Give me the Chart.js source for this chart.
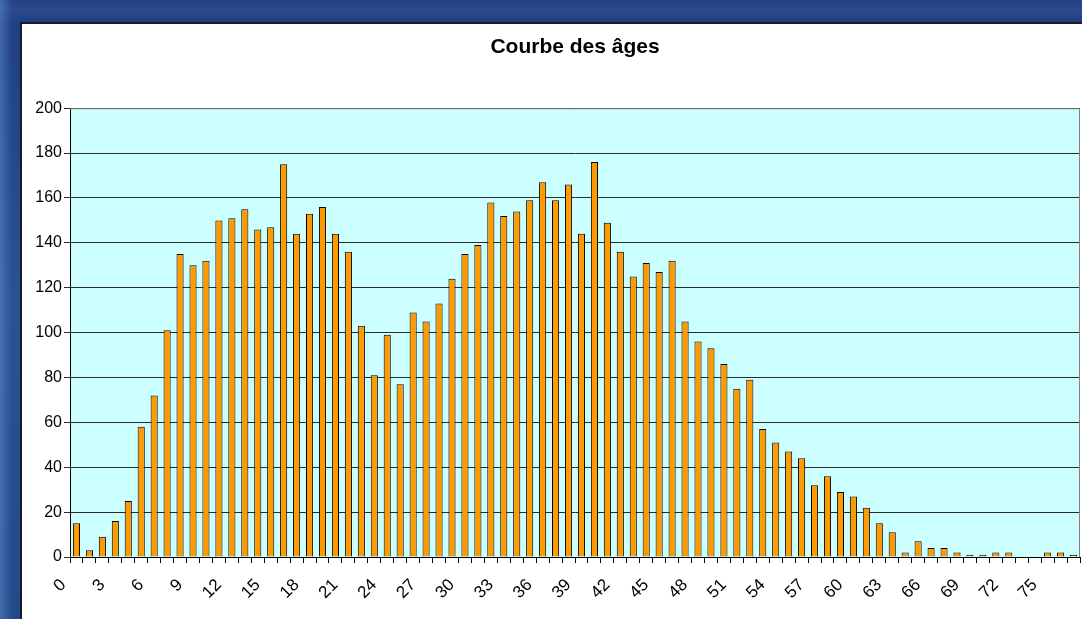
<!DOCTYPE html>
<html>
<head>
<meta charset="utf-8">
<script src="https://cdn.jsdelivr.net/npm/chart.js@4/dist/chart.umd.min.js"></script>
<style>
  html, body { margin: 0; padding: 0; width: 1082px; height: 619px; overflow: hidden; }
  body {
    background:
      linear-gradient(90deg, rgba(90,140,200,0.55) 0px, rgba(40,80,150,0.25) 12px, rgba(0,0,0,0) 22px),
      linear-gradient(180deg, #23407e 0px, #2b4b8f 10px, #1e3c80 24px, #2b5294 300px, #224887 619px);
    position: relative;
  }
  #box {
    position: absolute; left: 20px; top: 22px; width: 1100px; height: 620px;
    background: #ffffff; border-top: 2px solid #1a1a2a; border-left: 2px solid #1a1a2a;
  }
  #wrap { position: absolute; left: 0; top: 0; width: 1082px; height: 619px; }
</style>
</head>
<body>
<div id="box"></div>
<div id="wrap"><canvas id="c" width="1082" height="619"></canvas></div>
<script>
const chartTitle = 'Courbe des âges';
const ages = ['0','1','2','3','4','5','6','7','8','9','10','11','12','13','14','15','16','17','18','19',
  '20','21','22','23','24','25','26','27','28','29','30','31','32','33','34','35','36','37','38','39',
  '40','41','42','43','44','45','46','47','48','49','50','51','52','53','54','55','56','57','58','59',
  '60','61','62','63','64','65','66','67','68','69','70','71','72','73','74','75','76','77'];
const counts = [15,3,9,16,25,58,72,101,135,130,132,150,151,155,146,147,175,144,153,156,
  144,136,103,81,99,77,109,105,113,124,135,139,158,152,154,159,167,159,166,144,
  176,149,136,125,131,127,132,105,96,93,86,75,79,57,51,47,44,32,36,29,
  27,22,15,11,2,7,4,4,2,1,1,2,2,0,0,2,2,1];
const shownXLabels = ['0','3','6','9','12','15','18','21','24','27','30','33','36','39','42','45','48','51','54','57','60','63','66','69','72','75'];
const yTicks = [0,20,40,60,80,100,120,140,160,180,200];

const FONT = '"Liberation Sans", Arial, sans-serif';

const plotBg = {
  id: 'plotBg',
  beforeDraw(chart) {
    const {ctx, chartArea: a} = chart;
    ctx.save();
    ctx.fillStyle = '#CCFFFF';
    ctx.fillRect(a.left, a.top, a.right - a.left, a.bottom - a.top);
    ctx.restore();
  },
  afterDatasetsDraw(chart) {
    const {ctx, chartArea: a} = chart;
    ctx.save();
    ctx.strokeStyle = '#808080';
    ctx.lineWidth = 1;
    ctx.beginPath();
    ctx.moveTo(a.left, a.top + 0.5);
    ctx.lineTo(a.right - 0.5, a.top + 0.5);
    ctx.lineTo(a.right - 0.5, a.bottom);
    ctx.stroke();
    ctx.restore();
  }
};

new Chart(document.getElementById('c'), {
  type: 'bar',
  data: {
    labels: ages,
    datasets: [{
      data: counts,
      backgroundColor: '#FF9900',
      borderColor: '#000000',
      borderWidth: 1,
      barPercentage: 0.55,
      categoryPercentage: 1.0
    }]
  },
  options: {
    responsive: false,
    animation: false,
    devicePixelRatio: 1,
    layout: { padding: { left: 0, right: 2, top: 0, bottom: 0 } },
    plugins: {
      legend: { display: false },
      tooltip: { enabled: false },
      title: {
        display: true,
        fullSize: false,
        text: chartTitle,
        color: '#000',
        font: { family: FONT, size: 21, weight: 'bold' },
        padding: { top: 35, bottom: 48 }
      }
    },
    scales: {
      x: {
        type: 'category',
        grid: { offset: true, drawOnChartArea: false, drawTicks: true, tickLength: 6, color: '#000' },
        border: { color: '#000', width: 1 },
        ticks: {
          autoSkip: false,
          maxRotation: 45,
          minRotation: 45,
          padding: 12,
          labelOffset: -13,
          color: '#000',
          font: { family: FONT, size: 17 },
          callback: function(value) {
            const lab = this.getLabelForValue(value);
            return shownXLabels.includes(lab) ? lab : '';
          }
        },
        afterFit(scale) { scale.height = 62; scale.paddingRight = 0; scale.paddingLeft = 0; }
      },
      y: {
        min: 0, max: 200,
        afterBuildTicks(scale) { scale.ticks = yTicks.map(v => ({ value: v })); },
        grid: { color: '#2a2a2a', tickLength: 6, drawTicks: true },
        border: { color: '#000', width: 1 },
        ticks: { color: '#000', padding: 2, font: { family: FONT, size: 16 } },
        afterFit(scale) { scale.width = 70; }
      }
    }
  },
  plugins: [plotBg]
});
</script>
</body>
</html>
